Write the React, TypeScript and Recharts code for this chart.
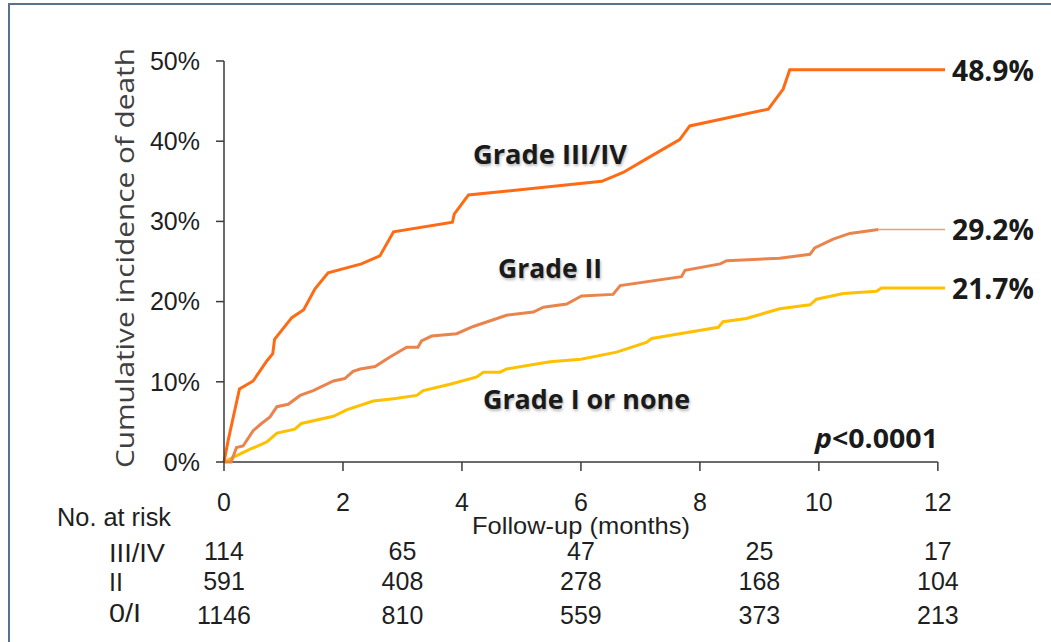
import React from "react";
import {
	LineChart,
	Line,
	XAxis,
	YAxis,
	ReferenceLine,
	ReferenceDot,
	Customized
} from "recharts";

// follow-up in months and cumulative incidence in %
const gradeIIIMonths = [0, 0.07, 0.26, 0.49, 0.72, 0.82, 0.85, 1.14, 1.34, 1.53, 1.75, 2.31, 2.62, 2.85, 3.84, 3.87, 4.11, 6.35, 6.71, 7.1, 7.66, 7.83, 9.15, 9.4, 9.51, 12.12];
const gradeIIIPct = [0, 2.7, 9.1, 10.1, 12.6, 13.5, 15.3, 18.0, 19.0, 21.6, 23.6, 24.7, 25.7, 28.7, 29.9, 30.9, 33.3, 35.0, 36.1, 37.8, 40.2, 41.9, 44.0, 46.5, 48.9, 48.9];

const gradeIIMonths = [0, 0.12, 0.21, 0.32, 0.49, 0.63, 0.77, 0.89, 1.08, 1.28, 1.5, 1.84, 2.03, 2.17, 2.29, 2.54, 2.79, 3.07, 3.26, 3.32, 3.49, 3.91, 4.19, 4.75, 5.2, 5.37, 5.76, 6.01, 6.54, 6.66, 7.69, 7.75, 8.34, 8.45, 9.34, 9.85, 9.93, 10.24, 10.52, 11.0];
const gradeIIPct = [0, 0, 1.8, 2.0, 3.9, 4.8, 5.6, 6.9, 7.2, 8.3, 8.9, 10.1, 10.4, 11.3, 11.6, 11.9, 13.1, 14.3, 14.3, 15.1, 15.7, 16.0, 16.9, 18.3, 18.7, 19.3, 19.7, 20.7, 20.9, 22.0, 23.1, 23.9, 24.7, 25.1, 25.4, 25.9, 26.7, 27.8, 28.5, 29.0];
// thin censored tail of grade II
const gradeIITailMonths = [11.0, 12.12];
const gradeIITailPct = [29.0, 29.0];

const gradeIMonths = [0, 0.16, 0.44, 0.72, 0.89, 1.19, 1.3, 1.84, 2.06, 2.51, 2.85, 3.24, 3.35, 3.8, 4.25, 4.36, 4.64, 4.75, 5.48, 6.0, 6.6, 7.1, 7.19, 7.66, 8.31, 8.39, 8.78, 9.34, 9.85, 9.96, 10.41, 10.97, 11.05, 12.12];
const gradeIPct = [0, 0.6, 1.6, 2.5, 3.6, 4.1, 4.8, 5.7, 6.5, 7.6, 7.9, 8.3, 8.9, 9.7, 10.6, 11.2, 11.2, 11.6, 12.5, 12.8, 13.7, 14.9, 15.4, 16.0, 16.8, 17.5, 17.9, 19.1, 19.6, 20.3, 21.0, 21.3, 21.7, 21.7];

const endLabels = { III: "48.9%", II: "29.2%", I: "21.7%" };

const xTicks = [0, 2, 4, 6, 8, 10, 12];
const yTicks = [0, 10, 20, 30, 40, 50];

const riskMonths = [0, 3, 6, 9, 12];
const riskIII = [114, 65, 47, 25, 17];
const riskII = [591, 408, 278, 168, 104];
const riskI = [1146, 810, 559, 373, 213];

const zip = (t: number[], v: number[]) => t.map((m, i) => ({ t: m, v: v[i] }));

const plainFamily = "Liberation Sans, Arial, sans-serif";
const tickFont = { fontSize: 25, fill: "#1f1f1f", fontFamily: plainFamily };
const boldFont = "Open Sans, Liberation Sans, sans-serif";
const axisColor = "#3a3a3a";

const endLabel = (text: string, lastIndex: number) => (props: any) => {
	if (props.index !== lastIndex) return null;
	return (
		<text
			x={props.x + 7}
			y={props.y + 11}
			fontFamily={boldFont}
			fontWeight={700}
			fontSize={28}
			fill="#1a1a1a"
			textLength={82}
			lengthAdjust="spacingAndGlyphs"
		>
			{text}
		</text>
	);
};

// numbers at risk hang below the x axis, one row per grade
const riskRows = [
	{ values: riskIII, offset: 98 },
	{ values: riskII, offset: 128 },
	{ values: riskI, offset: 162 }
];

const riskLabel = (value: number, offset: number) => (props: any) => {
	const vb = props.viewBox || {};
	const cx = vb.x + (vb.width || 0) / 2;
	const cy = vb.y + (vb.height || 0) / 2;
	return (
		<text x={cx} y={cy + offset} textAnchor="middle" fontFamily={plainFamily} fontSize={25} fill="#1f1f1f">
			{value}
		</text>
	);
};

const Annotations = () => {
	const shadow = { textShadow: "1px 2px 3px rgba(0,0,0,0.28)" };
	const plain = { fontFamily: plainFamily, fontSize: 25, fill: "#1f1f1f" };
	return (
		<g>
			<text
				x={134}
				y={258}
				transform="rotate(-90, 134, 258)"
				textAnchor="middle"
				fontFamily="Open Sans, DejaVu Sans, sans-serif"
				fontSize={25}
				fill="#404040"
				textLength={420}
				lengthAdjust="spacingAndGlyphs"
			>
				Cumulative incidence of death
			</text>
			<text x={473} y={164} fontFamily={boldFont} fontWeight={700} fontSize={27} fill="#1a1a1a" style={shadow} textLength={154} lengthAdjust="spacingAndGlyphs">Grade III/IV</text>
			<text x={498} y={278} fontFamily={boldFont} fontWeight={700} fontSize={27} fill="#1a1a1a" style={shadow} textLength={104} lengthAdjust="spacingAndGlyphs">Grade II</text>
			<text x={483} y={409} fontFamily={boldFont} fontWeight={700} fontSize={27} fill="#1a1a1a" style={shadow} textLength={207} lengthAdjust="spacingAndGlyphs">Grade I or none</text>
			<text x={815} y={448} fontFamily={boldFont} fontWeight={700} fontSize={27} fill="#1a1a1a" textLength={123} lengthAdjust="spacingAndGlyphs">
				<tspan fontStyle="italic">p</tspan>&lt;0.0001
			</text>
			<text x={581} y={534} textAnchor="middle" {...plain} fontSize={24} textLength={218} lengthAdjust="spacingAndGlyphs">Follow-up (months)</text>
			<text x={57} y={526} {...plain} textLength={114} lengthAdjust="spacingAndGlyphs">No. at risk</text>
			<text x={109} y={562} {...plain} textLength={56} lengthAdjust="spacingAndGlyphs">III/IV</text>
			<text x={109} y={591} {...plain}>II</text>
			<text x={109} y={622} {...plain} textLength={32} lengthAdjust="spacingAndGlyphs">0/I</text>
		</g>
	);
};

const App = () => {
	return (
		<div style={{ position: "absolute", left: 0, top: 0, width: 1051, height: 642, background: "#fff", overflow: "hidden" }}>
			<div
				style={{
					position: "absolute",
					left: 8,
					top: 3,
					width: 1043,
					height: 639,
					borderTop: "2px solid #56728d",
					borderLeft: "2px solid #56728d"
				}}
			/>
			<div style={{ position: "absolute", left: 0, top: 0 }}>
				<LineChart width={1051} height={642} margin={{ top: 61, right: 106, bottom: 108, left: 0 }}>
					<XAxis
						xAxisId="main"
						type="number"
						dataKey="t"
						domain={[0, 12.12]}
						ticks={xTicks}
						interval={0}
						axisLine={false}
						tickLine={{ stroke: axisColor, strokeWidth: 1.5 }}
						tickSize={9}
						tickMargin={22}
						height={72}
						tick={tickFont}
					/>
					<YAxis
						type="number"
						domain={[0, 50]}
						ticks={yTicks}
						interval={0}
						width={224}
						tickFormatter={(v: number) => `${v}%`}
						axisLine={{ stroke: axisColor, strokeWidth: 1.5 }}
						tickLine={{ stroke: axisColor, strokeWidth: 1.5 }}
						tickSize={8}
						tickMargin={16}
						tick={tickFont}
					/>
					<ReferenceLine
						xAxisId="main"
						segment={[{ x: 0, y: 0 }, { x: 12, y: 0 }]}
						stroke={axisColor}
						strokeWidth={1.5}
					/>
					<Line
						xAxisId="main"
						data={zip(gradeIMonths, gradeIPct)}
						dataKey="v"
						type="linear"
						stroke="#ffc000"
						strokeWidth={3}
						dot={false}
						isAnimationActive={false}
						label={endLabel(endLabels.I, gradeIMonths.length - 1)}
					/>
					<Line
						xAxisId="main"
						data={zip(gradeIIMonths, gradeIIPct)}
						dataKey="v"
						type="linear"
						stroke="#e9844c"
						strokeWidth={3}
						dot={false}
						isAnimationActive={false}
					/>
					<Line
						xAxisId="main"
						data={zip(gradeIITailMonths, gradeIITailPct)}
						dataKey="v"
						type="linear"
						stroke="#f0a06e"
						strokeWidth={1.5}
						dot={false}
						isAnimationActive={false}
						label={endLabel(endLabels.II, gradeIITailMonths.length - 1)}
					/>
					<Line
						xAxisId="main"
						data={zip(gradeIIIMonths, gradeIIIPct)}
						dataKey="v"
						type="linear"
						stroke="#ff6a14"
						strokeWidth={3}
						dot={false}
						isAnimationActive={false}
						label={endLabel(endLabels.III, gradeIIIMonths.length - 1)}
					/>
					{riskRows.map((row, r) =>
						riskMonths.map((m, i) => (
							<ReferenceDot
								key={`risk-${r}-${i}`}
								xAxisId="main"
								x={m}
								y={0}
								r={1}
								fill="none"
								stroke="none"
								ifOverflow="visible"
								label={riskLabel(row.values[i], row.offset)}
							/>
						))
					)}
					<Customized component={Annotations} />
				</LineChart>
			</div>
		</div>
	);
};

export default App;
